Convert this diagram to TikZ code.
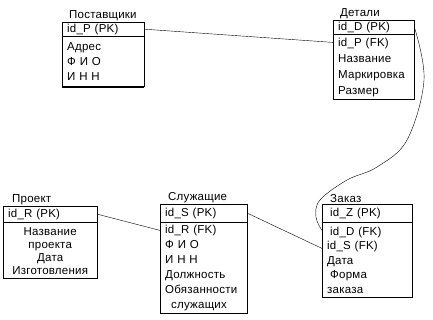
\documentclass[tikz,border=0pt]{standalone}
\usepackage{fontspec}
\setmainfont{Liberation Sans}[LetterSpace=2]
\usetikzlibrary{positioning}
\newcommand{\tblfont}{\fontsize{11.5}{15}\selectfont}
\tikzset{
  headrow/.style={draw,anchor=north west,inner xsep=5pt,inner ysep=1pt,align=left,font=\tblfont},
  bodyrows/.style={draw,inner xsep=5pt,inner ysep=2pt,align=left,font=\tblfont},
  tbltitle/.style={inner sep=1pt,font=\tblfont},
  link/.style={thin,black}
}

\begin{document}
\begin{tikzpicture}[x=1pt,y=-1pt]
  \useasboundingbox (0,0) rectangle (433,319);

  % Поставщики
  \node[headrow,text width=72pt,minimum height=14pt] (posthead) at (62,22) {id\_P (PK)};
  \node[bodyrows,text width=72pt,minimum height=50pt,below=0pt of posthead] (postbody) {Адрес\\Ф И О\\И Н Н};
  \node[tbltitle,above right=0pt and 6pt of posthead.north west] (posttitle) {Поставщики};
  \draw[line width=1.6pt] (postbody.south west) -- (postbody.south east);

  % Детали
  \node[headrow,text width=71pt,minimum height=14pt] (dethead) at (333,20) {id\_D (PK)};
  \node[bodyrows,text width=71pt,minimum height=65pt,below=0pt of dethead,font=\fontsize{11.5}{16}\selectfont] (detbody) {id\_P (FK)\\Название\\Маркировка\\Размер};
  \node[tbltitle,above right=0pt and 6pt of dethead.north west] (dettitle) {Детали};

  % Проект
  \node[headrow,text width=84pt,minimum height=16pt] (projhead) at (3,206) {id\_R (PK)};
  \node[bodyrows,text width=84pt,minimum height=56pt,below=0pt of projhead,align=center,font=\fontsize{11.5}{13}\selectfont] (projbody) {Название\\проекта\\Дата\\Изготовления};
  \node[tbltitle,above right=0pt and 8pt of projhead.north west] (projtitle) {Проект};

  % Служащие
  \node[headrow,text width=77pt,minimum height=18pt] (emphead) at (160,204) {id\_S (PK)};
  \node[bodyrows,text width=77pt,minimum height=91pt,below=0pt of emphead] (empbody) {id\_R (FK)\\Ф И О\\И Н Н\\Должность\\Обязанности\\\hspace*{6pt}служащих};
  \node[tbltitle,above right=0pt and 7pt of emphead.north west] (emptitle) {Служащие};

  % Заказ
  \node[headrow,text width=80pt,minimum height=18pt] (ordhead) at (322,204) {\hspace*{3pt}id\_Z (PK)};
  \node[bodyrows,text width=80pt,minimum height=75pt,below=0pt of ordhead,font=\fontsize{11.5}{14.5}\selectfont] (ordbody) {\hspace*{3pt}id\_D (FK)\\id\_S (FK)\\Дата\\\hspace*{3pt}Форма\\заказа};
  \node[tbltitle,above right=0pt and 7pt of ordhead.north west] (ordtitle) {Заказ};

  % row ports
  \coordinate (detP) at ([yshift=-8pt]detbody.north west);
  \coordinate (empR) at ([yshift=-8pt]empbody.north west);
  \coordinate (ordD) at ([yshift=-8pt]ordbody.north west);
  \coordinate (ordS) at ([yshift=-26pt]ordbody.north west);

  \draw[link] (posthead.east) -- (detP);
  \draw[link] (projhead.east) -- (empR);
  \draw[link] (emphead.east) -- (ordS);
  \draw[link] plot[smooth,tension=0.6] coordinates {(dethead.east) (424,80) (407,140) (377,167) (347,180) (320,200) (316,217) (ordD)};
\end{tikzpicture}
\end{document}
